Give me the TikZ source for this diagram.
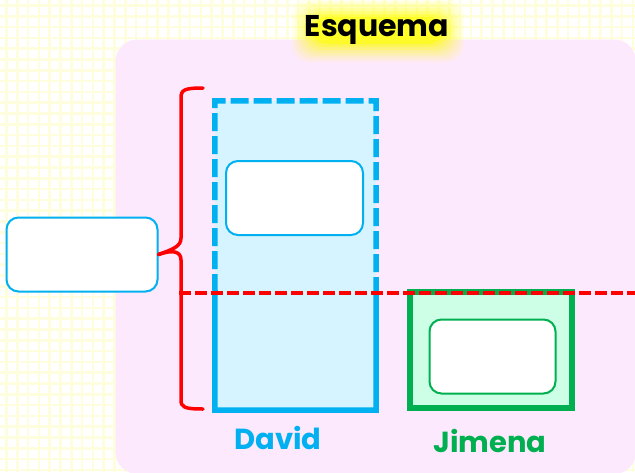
\documentclass[tikz,border=0pt]{standalone}
\usepackage{fontspec}
\newfontfamily\pop{Poppins}
\definecolor{gridy}{HTML}{FEFEDE}
\definecolor{pinkbg}{HTML}{FDE9FD}
\definecolor{bluel}{HTML}{00B0F0}
\definecolor{bluef}{HTML}{D5F4FF}
\definecolor{greenl}{HTML}{00B050}
\definecolor{greenf}{HTML}{CCFFE6}
\definecolor{glow}{HTML}{FFFF00}
\begin{document}
\begin{tikzpicture}[x=1pt,y=-1pt,
  whitebox/.style={draw=#1,line width=2pt,fill=white,rounded corners=12pt,inner sep=0pt},
  label/.style={font=\pop\bfseries\fontsize{29}{30}\selectfont,text=#1,inner sep=0pt},
  bracepath/.style={draw=red,line width=3.5pt,line cap=round,line join=round}]
\useasboundingbox (0,0) rectangle (635,472);
\clip (0,0) rectangle (635,472);
\fill[white] (0,0) rectangle (635,472);
% grid
\foreach \i in {0,...,59}{
  \draw[gridy,line width=2.6pt] ({6.5+10.8*\i},0) -- ({6.5+10.8*\i},472);
}
\foreach \i in {0,...,44}{
  \draw[gridy,line width=2.6pt] (0,{5.5+10.8*\i}) -- (635,{5.5+10.8*\i});
}
% pink panel
\fill[pinkbg,rounded corners=22pt] (115.5,39.5) rectangle (636,474);
% title glow
\foreach \k/\o in {16/0.08,13/0.10,10/0.12,7/0.15,4/0.2,1/0.3,-2/0.5}{
  \fill[glow,opacity=\o,rounded corners=18pt] ({308-\k},{15-\k}) rectangle ({448+\k},{46+\k});
}
\node[font=\pop\bfseries\fontsize{30}{31}\selectfont,inner sep=0pt] (title) at (377,30) {Esquema};
% David box
\node[fill=bluef,minimum width=161pt,minimum height=309pt,inner sep=0pt] (davbox) at (295.5,255.5) {};
\coordinate (davmidL) at (215,292);
\coordinate (davmidR) at (376,292);
\draw[bluel,line width=5.5pt,dash pattern=on 18pt off 5pt] (davmidL) -- (davbox.north west) -- (davbox.north east) -- (davmidR);
\draw[bluel,line width=5.5pt,line join=miter] (davmidL) -- (davbox.south west) -- (davbox.south east) -- (davmidR);
\node[whitebox=bluel,minimum width=137pt,minimum height=74pt] (davin) at (294.5,198) {};
% Jimena box
\node[draw=greenl,fill=greenf,line width=6pt,minimum width=162pt,minimum height=116pt,inner sep=0pt] (jimbox) at (491,350) {};
\node[whitebox=greenl,minimum width=126pt,minimum height=74pt] (jimin) at (492.5,356.5) {};
% left box
\node[whitebox=bluel,minimum width=151pt,minimum height=74pt] (leftbox) at (82,254.5) {};
% brace
\coordinate (btop) at (203,88);
\coordinate (bbot) at (203,409);
\draw[bracepath] (btop) .. controls (184,88) and (181,90) .. (181,98) -- (181,238) .. controls (181,246) and (174,249) .. (leftbox.east);
\draw[bracepath] (leftbox.east) .. controls (174,249) and (181,252) .. (181,260) -- (181,400) .. controls (181,407) and (184,409) .. (bbot);
% red dashed line
\coordinate (rdA) at (179,292.5);
\coordinate (rdB) at (640,292.5);
\draw[red,line width=4pt,dash pattern=on 12pt off 4pt] (rdA) -- (rdB);
% labels
\node[label=bluel] (david) at (278,438) {David};
\node[label=greenl] (jimena) at (490,441) {Jimena};
\end{tikzpicture}
\end{document}
